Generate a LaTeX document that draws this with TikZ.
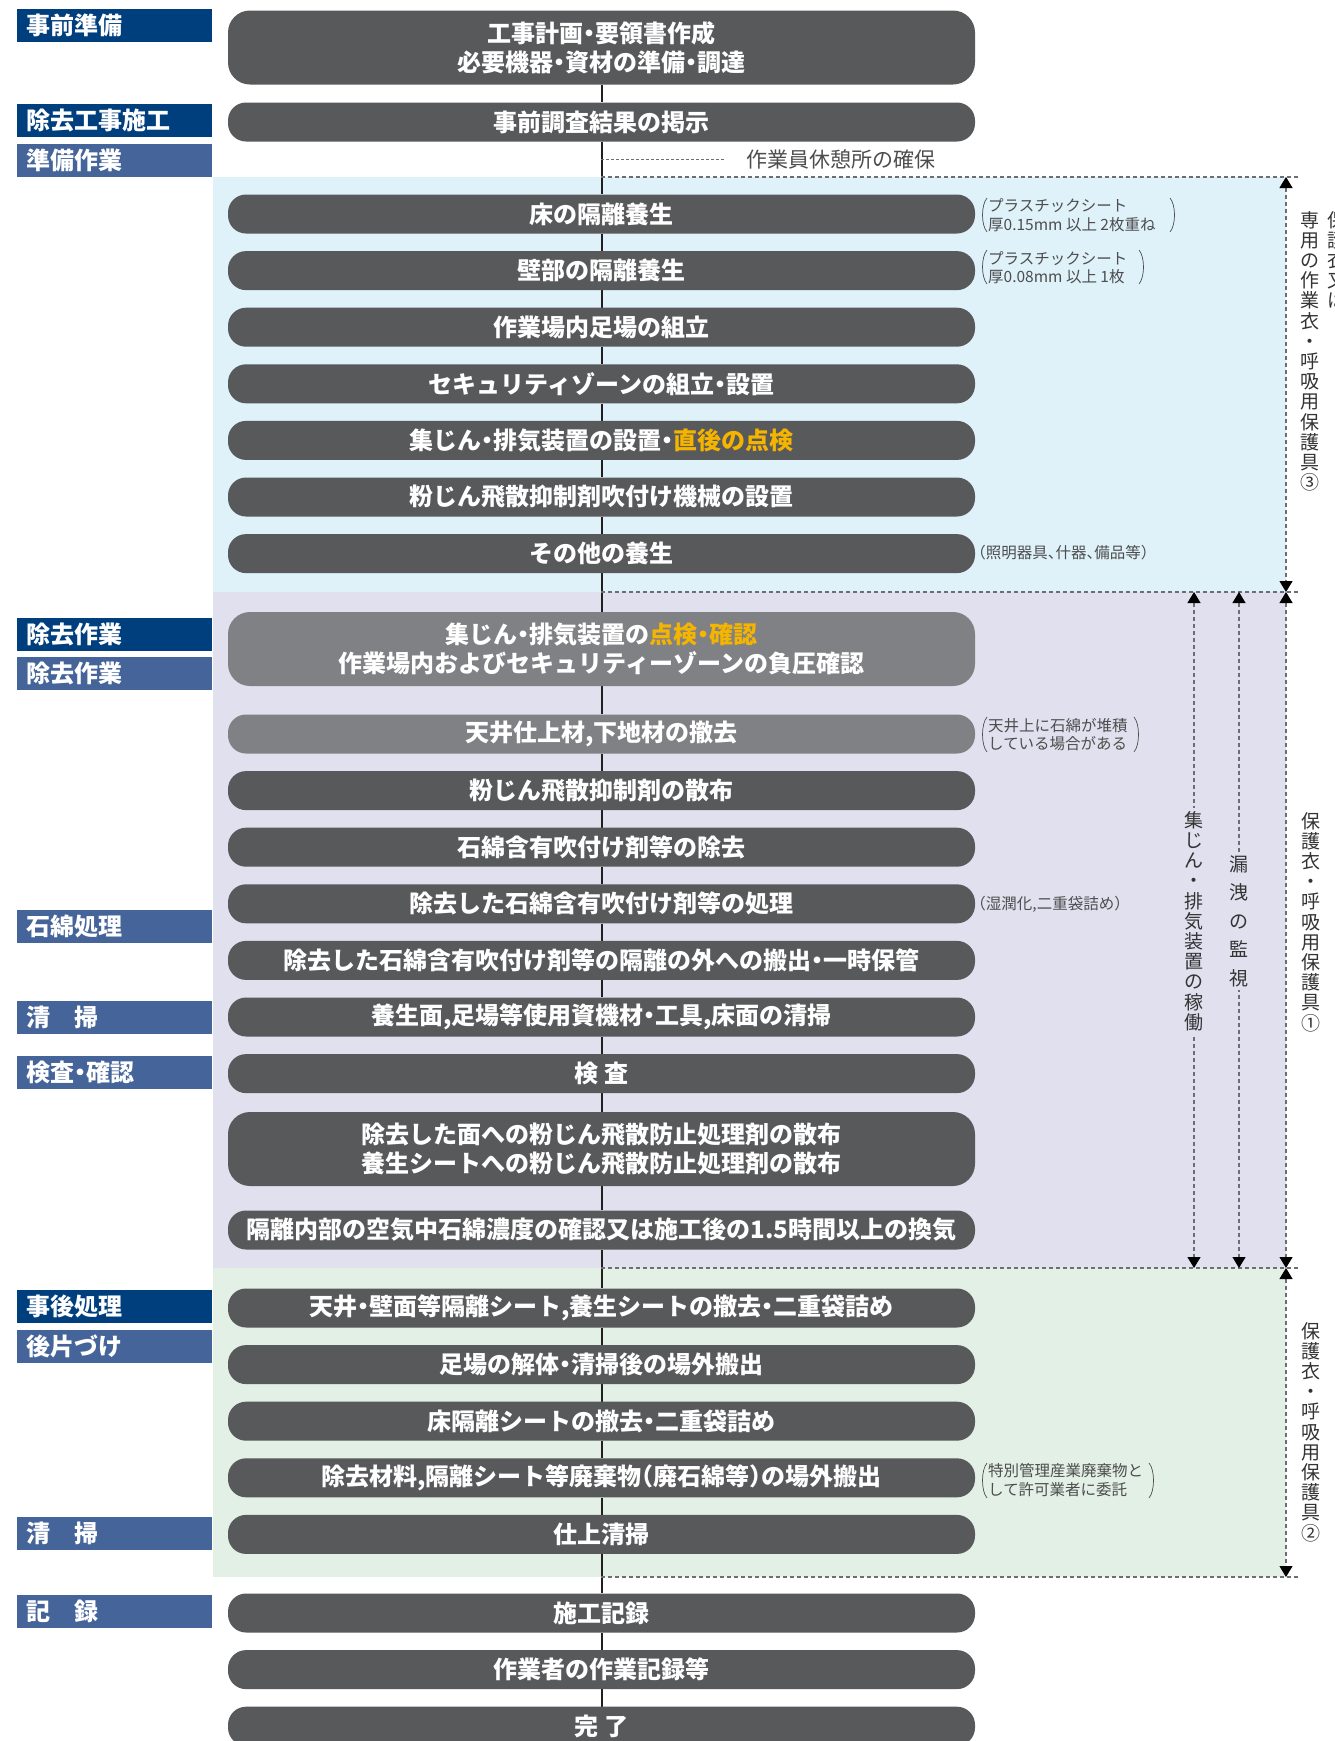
\documentclass[tikz,border=0pt]{standalone}
\usepackage{fontspec}
\setmainfont{Noto Sans CJK JP}[RawFeature=+halt]
\usetikzlibrary{arrows.meta}
\pgfdeclarelayer{bglayer}
\pgfdeclarelayer{midlayer}
\pgfsetlayers{bglayer,midlayer,main}
\definecolor{boxdarkc}{HTML}{58595B}
\definecolor{boxlightc}{HTML}{808184}
\definecolor{bgbluec}{HTML}{DFF1F9}
\definecolor{bglavc}{HTML}{E1E0EF}
\definecolor{bggreenc}{HTML}{E2F0E6}
\definecolor{labdarkc}{HTML}{003F7E}
\definecolor{lablightc}{HTML}{44649A}
\definecolor{hlc}{HTML}{F5B400}
\definecolor{notegrayc}{HTML}{4D4D4D}
\definecolor{dashgrayc}{HTML}{6D6E71}
\definecolor{spinec}{HTML}{231F20}
\definecolor{vtextc}{HTML}{333333}
\tikzset{
 stepbox/.style={fill=boxdarkc, rounded corners=18pt, minimum width=747pt, minimum height=39pt, inner sep=0pt, text=white, align=center, font=\bfseries\fontsize{24}{29}\selectfont},
 lightbox/.style={stepbox, fill=boxlightc},
 tallbox/.style={minimum height=74pt, rounded corners=22pt},
 labbox/.style={fill=labdarkc, anchor=west, minimum height=33pt, text width=177pt, inner xsep=9pt, inner ysep=0pt, text=white, align=left, font=\bfseries\fontsize{24}{26}\selectfont},
 labboxlight/.style={labbox, fill=lablightc},
 notetext/.style={anchor=west, inner sep=0pt, align=left, text=notegrayc, font=\fontsize{15.5}{18.5}\selectfont},
 restnote/.style={anchor=west, inner sep=0pt, text=notegrayc, font=\fontsize{21}{24}\selectfont},
 parenline/.style={draw=notegrayc, line width=0.7pt},
 spine/.style={draw=spinec, line width=2pt},
 dline/.style={draw=dashgrayc, line width=1.2pt, dash pattern=on 4pt off 3pt},
 dimarrow/.style={dline, arrows={Triangle[width=13pt,length=11pt,color=black]-Triangle[width=13pt,length=11pt,color=black]}},
 vtxt/.style={inner xsep=2pt, inner ysep=3pt, align=center, text=vtextc, font=\fontsize{19}{20.2}\selectfont},
}
\begin{document}
\begin{tikzpicture}[x=1pt,y=-1pt]
\useasboundingbox (0,0) rectangle (1334,1741);
\begin{pgfonlayer}{bglayer}
\fill[white] (0,0) rectangle (1334,1741);
\fill[bgbluec] (213,177) rectangle (1286,592);
\fill[bglavc] (213,592) rectangle (1286,1268);
\fill[bggreenc] (213,1268) rectangle (1286,1577);
\end{pgfonlayer}

% left labels
\node[labbox] (l1) at (17,25) {事前準備};
\node[labbox] (l2) at (17,120) {除去工事施工};
\node[labboxlight] (l3) at (17,160.5) {準備作業};
\node[labbox] (l4) at (17,634) {除去作業};
\node[labboxlight] (l5) at (17,673) {除去作業};
\node[labboxlight] (l6) at (17,926.5) {石綿処理};
\node[labboxlight] (l7) at (17,1017) {清　掃};
\node[labboxlight] (l8) at (17,1072.5) {検査・確認};
\node[labbox] (l9) at (17,1306) {事後処理};
\node[labboxlight] (l10) at (17,1346) {後片づけ};
\node[labboxlight] (l11) at (17,1533) {清　掃};
\node[labboxlight] (l12) at (17,1611) {記　録};

% main steps
\node[stepbox,tallbox] (b1) at (601.5,47.5) {工事計画・要領書作成\\必要機器・資材の準備・調達};
\node[stepbox] (b2) at (601.5,122) {事前調査結果の掲示};
\node[stepbox] (b3) at (601.5,214) {床の隔離養生};
\node[stepbox] (b4) at (601.5,270.6) {壁部の隔離養生};
\node[stepbox] (b5) at (601.5,327.2) {作業場内足場の組立};
\node[stepbox] (b6) at (601.5,383.8) {セキュリティゾーンの組立・設置};
\node[stepbox] (b7) at (601.5,440.4) {集じん・排気装置の設置・\textcolor{hlc}{直後の点検}};
\node[stepbox] (b8) at (601.5,497) {粉じん飛散抑制剤吹付け機械の設置};
\node[stepbox] (b9) at (601.5,553.6) {その他の養生};
\node[lightbox,tallbox] (b10) at (601.5,649) {集じん・排気装置の\textcolor{hlc}{点検・確認}\\作業場内およびセキュリティーゾーンの負圧確認};
\node[lightbox] (b11) at (601.5,734) {天井仕上材,下地材の撤去};
\node[stepbox] (b12) at (601.5,790.6) {粉じん飛散抑制剤の散布};
\node[stepbox] (b13) at (601.5,847.2) {石綿含有吹付け剤等の除去};
\node[stepbox] (b14) at (601.5,903.8) {除去した石綿含有吹付け剤等の処理};
\node[stepbox] (b15) at (601.5,960.4) {除去した石綿含有吹付け剤等の隔離の外への搬出・一時保管};
\node[stepbox] (b16) at (601.5,1017) {養生面,足場等使用資機材・工具,床面の清掃};
\node[stepbox] (b17) at (601.5,1073.6) {検 査};
\node[stepbox,tallbox] (b18) at (601.5,1149) {除去した面への粉じん飛散防止処理剤の散布\\養生シートへの粉じん飛散防止処理剤の散布};
\node[stepbox] (b19) at (601.5,1230) {隔離内部の空気中石綿濃度の確認又は施工後の1.5時間以上の換気};
\node[stepbox] (b20) at (601.5,1308) {天井・壁面等隔離シート,養生シートの撤去・二重袋詰め};
\node[stepbox] (b21) at (601.5,1364.6) {足場の解体・清掃後の場外搬出};
\node[stepbox] (b22) at (601.5,1421.2) {床隔離シートの撤去・二重袋詰め};
\node[stepbox] (b23) at (601.5,1477.8) {除去材料,隔離シート等廃棄物（廃石綿等）の場外搬出};
\node[stepbox] (b24) at (601.5,1534.4) {仕上清掃};
\node[stepbox] (b25) at (601.5,1613) {施工記録};
\node[stepbox] (b26) at (601.5,1669.6) {作業者の作業記録等};
\node[stepbox] (b27) at (601.5,1726.2) {完 了};

% spine
\begin{pgfonlayer}{midlayer}
\foreach \i [evaluate=\i as \j using int(\i+1)] in {1,...,26} {
  \draw[spine] (b\i.south) -- (b\j.north);
}
% horizontal dashed boundaries
\coordinate (h1s) at (601,177); \coordinate (h1e) at (1300,177);
\coordinate (h2s) at (601,592); \coordinate (h2e) at (1300,592);
\coordinate (h3s) at (601,1268); \coordinate (h3e) at (1300,1268);
\coordinate (h4s) at (601,1577); \coordinate (h4e) at (1300,1577);
\draw[dline] (h1s) -- (h1e);
\draw[dline] (h2s) -- (h2e);
\draw[dline] (h3s) -- (h3e);
\draw[dline] (h4s) -- (h4e);
% dimension arrows
\coordinate (a3t) at (1286,177); \coordinate (a3b) at (1286,592);
\coordinate (a2t) at (1286,1268); \coordinate (a2b) at (1286,1577);
\coordinate (dt) at (1194,592); \coordinate (db) at (1194,1268);
\coordinate (mt) at (1239,592); \coordinate (mb) at (1239,1268);
\draw[dimarrow] (a3t) -- (a3b);
\draw[dimarrow] (a3b) -- (a2t);
\draw[dimarrow] (a2t) -- (a2b);
\draw[dimarrow] (dt) -- (db);
\draw[dimarrow] (mt) -- (mb);
\end{pgfonlayer}

% rest area note
\coordinate (rest) at (601,159);
\coordinate (restend) at (724,159);
\node[restnote] (rn) at (746,159) {作業員休憩所の確保};
\draw[dline, line width=1pt, dash pattern=on 3pt off 2pt] (rest) -- (restend);

% side notes
\node[notetext] (n1) at (988,215) {プラスチックシート\\厚0.15mm 以上 2枚重ね};
\draw[parenline] (987,198) .. controls (981,205) and (981,225) .. (987,232);
\draw[parenline] (1170,198) .. controls (1176,205) and (1176,225) .. (1170,232);
\node[notetext] (n2) at (988,267.5) {プラスチックシート\\厚0.08mm 以上 1枚};
\draw[parenline] (987,250) .. controls (981,257) and (981,277) .. (987,284);
\draw[parenline] (1139,250) .. controls (1145,257) and (1145,277) .. (1139,284);
\node[notetext] (n3) at (978,553) {（照明器具、什器、備品等）};
\node[notetext] (n4) at (988,734.5) {天井上に石綿が堆積\\している場合がある};
\draw[parenline] (987,717) .. controls (981,724) and (981,745) .. (987,752);
\draw[parenline] (1134,717) .. controls (1140,724) and (1140,745) .. (1134,752);
\node[notetext] (n5) at (978,904) {（湿潤化,二重袋詰め）};
\node[notetext] (n6) at (988,1480) {特別管理産業廃棄物と\\して許可業者に委託};
\draw[parenline] (987,1463) .. controls (981,1470) and (981,1491) .. (987,1498);
\draw[parenline] (1149,1463) .. controls (1155,1470) and (1155,1491) .. (1149,1498);

% vertical texts
\node[vtxt, anchor=north] (v3) at (1310,208) {専\\用\\の\\作\\業\\衣\\・\\呼\\吸\\用\\保\\護\\具\\③};
\node[vtxt, anchor=north] (v3b) at (1337,208) {保\\護\\衣\\又\\は};
\node[vtxt, fill=bglavc] (vdust) at (1194,921) {集\\じ\\ん\\・\\排\\気\\装\\置\\の\\稼\\働};
\node[vtxt, fill=bglavc, font=\fontsize{19}{28.5}\selectfont] (vleak) at (1239,921) {漏\\洩\\の\\監\\視};
\node[vtxt] (v1) at (1311,922) {保\\護\\衣\\・\\呼\\吸\\用\\保\\護\\具\\①};
\node[vtxt] (v2) at (1311,1432) {保\\護\\衣\\・\\呼\\吸\\用\\保\\護\\具\\②};
\end{tikzpicture}
\end{document}
